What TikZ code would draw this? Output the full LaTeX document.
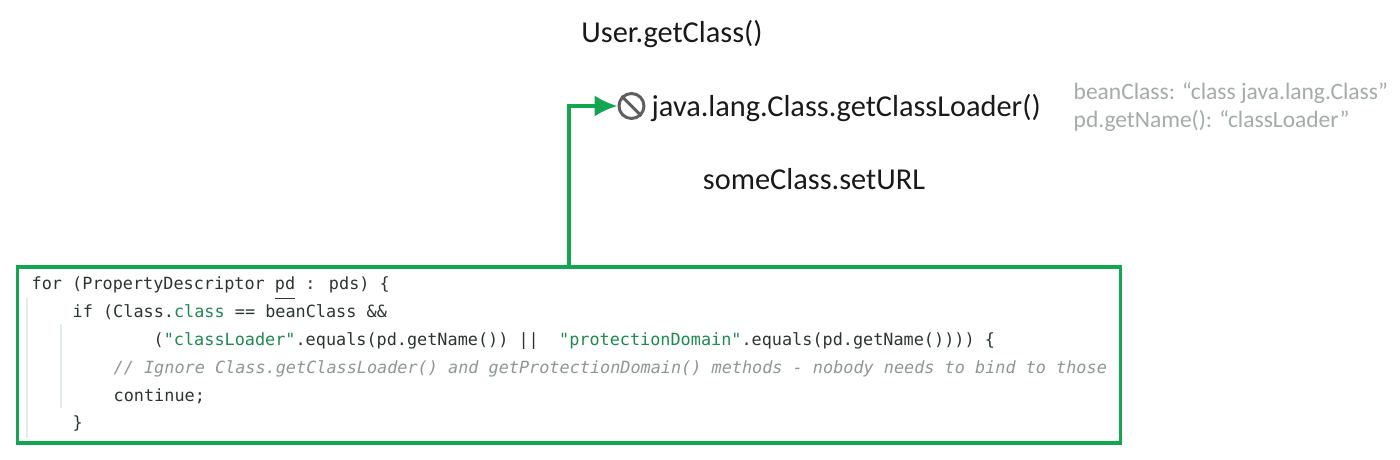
\documentclass[tikz,border=0pt]{standalone}
\usepackage{fontspec}
\setmainfont{Carlito}
\newfontfamily\codefont{DejaVu Sans Mono}
\usepackage{xcolor}
\usetikzlibrary{arrows.meta,calc,positioning}
\definecolor{framegreen}{HTML}{12A650}
\definecolor{stringgreen}{HTML}{1E8A50}
\definecolor{commentgray}{HTML}{8C9896}
\definecolor{notegray}{HTML}{A3ABAB}
\definecolor{codeblack}{HTML}{2B3533}
\definecolor{bangray}{HTML}{5F5F5F}
\definecolor{guidegray}{HTML}{E2ECE8}
\tikzset{
  label/.style={inner sep=0pt,text=black!90,font=\fontsize{8.64}{10}\selectfont},
  notelabel/.style={inner sep=0pt,text=notegray,align=left,font=\fontsize{6.68}{7.97}\selectfont},
  codeline/.style={anchor=base west,inner sep=0pt,text=codeblack,font=\codefont\fontsize{4.79}{6}\selectfont},
  codeframe/.style={draw=framegreen,line width=1.1pt,minimum width=11.03cm,minimum height=1.76cm,inner sep=0pt},
  banmark/.style={circle,draw=bangray,line width=0.85pt,minimum size=0.25cm,inner sep=0pt},
  link/.style={-{Latex[length=6.5pt,width=6pt]},framegreen,line width=1.05pt}
}
\newcommand{\strtext}[1]{\textcolor{stringgreen}{#1}}
\begin{document}
\begin{tikzpicture}
\useasboundingbox (0,0) rectangle (14,4.6);
\fill[white] (0,0) rectangle (14,4.6);
% top labels
\node[label] (getclass) at (6.72,4.26) {User.getClass()};
\node[banmark] (ban) at (6.315,3.54) {};
\node[label,anchor=west] (loader) at (6.51,3.52) {java.lang.Class.getClassLoader()};
\node[label] (seturl) at (8.14,2.81) {someClass.setURL};
\node[notelabel,anchor=west] (note) at (10.73,3.53) {beanClass: “class java.lang.Class”\\pd.getName(): “classLoader”};
\draw[bangray,line width=0.85pt] (ban.north west) -- (ban.south east);
% code block
\draw[guidegray,line width=0.4pt] (0.27,1.62) -- (0.27,0.22);
\draw[guidegray,line width=0.4pt] (0.61,1.36) -- (0.61,0.52);
\node[codeframe] (codebox) at (5.69,1.05) {};
\node[codeline] (line1) at (0.31,1.70) {for (PropertyDescriptor \underline{pd} : pds) \{};
\node[codeline] (line2) at (0.72,1.42) {if (Class.\strtext{class} == beanClass \&\&};
\node[codeline] (line3) at (1.53,1.14) {(\strtext{"classLoader"}.equals(pd.getName()) ||\ \ \strtext{"protectionDomain"}.equals(pd.getName()))) \{};
\node[codeline,text=commentgray] (line4) at (1.13,0.86) {\fontspec{DejaVu Sans Mono Oblique}// Ignore Class.getClassLoader() and getProtectionDomain() methods - nobody needs to bind to those};
\node[codeline] (line5) at (1.13,0.58) {continue;};
\node[codeline] (line6) at (0.72,0.31) {\}};
% arrow up to the blocked call
\draw[link] (codebox.north) |- (ban.west);
\end{tikzpicture}
\end{document}
